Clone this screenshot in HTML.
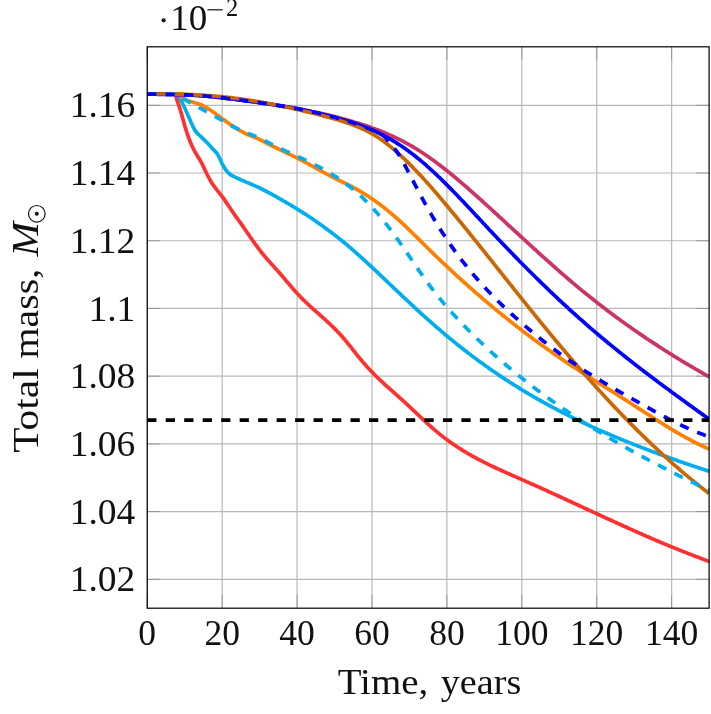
<!DOCTYPE html>
<html><head><meta charset="utf-8"><title>chart</title><style>html,body{margin:0;padding:0;background:#fff}svg{display:block;will-change:transform}</style></head><body>
<svg width="711" height="714" viewBox="0 0 711 714">
<rect width="711" height="714" fill="#fff"/>
<path d="M147.25 46.80 V608.20 M222.16 46.80 V608.20 M297.08 46.80 V608.20 M371.99 46.80 V608.20 M446.90 46.80 V608.20 M521.82 46.80 V608.20 M596.73 46.80 V608.20 M671.64 46.80 V608.20 M147.25 579.34 H709.10 M147.25 511.62 H709.10 M147.25 443.90 H709.10 M147.25 376.18 H709.10 M147.25 308.46 H709.10 M147.25 240.74 H709.10 M147.25 173.02 H709.10 M147.25 105.30 H709.10" stroke="#b9b9b9" stroke-width="1.2" fill="none"/>
<path d="M147.25 608.20 v-13.00 M147.25 46.80 v13.00 M222.16 608.20 v-13.00 M222.16 46.80 v13.00 M297.08 608.20 v-13.00 M297.08 46.80 v13.00 M371.99 608.20 v-13.00 M371.99 46.80 v13.00 M446.90 608.20 v-13.00 M446.90 46.80 v13.00 M521.82 608.20 v-13.00 M521.82 46.80 v13.00 M596.73 608.20 v-13.00 M596.73 46.80 v13.00 M671.64 608.20 v-13.00 M671.64 46.80 v13.00 M147.25 579.34 h13.00 M709.10 579.34 h-13.00 M147.25 511.62 h13.00 M709.10 511.62 h-13.00 M147.25 443.90 h13.00 M709.10 443.90 h-13.00 M147.25 376.18 h13.00 M709.10 376.18 h-13.00 M147.25 308.46 h13.00 M709.10 308.46 h-13.00 M147.25 240.74 h13.00 M709.10 240.74 h-13.00 M147.25 173.02 h13.00 M709.10 173.02 h-13.00 M147.25 105.30 h13.00 M709.10 105.30 h-13.00" stroke="#808080" stroke-width="0.65" fill="none"/>
<defs><clipPath id="c"><rect x="147.25" y="46.80" width="561.85" height="561.40"/></clipPath></defs>
<g clip-path="url(#c)" fill="none" stroke-width="3.7" stroke-linejoin="miter" stroke-miterlimit="10">
<path d="M147.2 94.1 L175.4 94.1 L176.9 99.7 L178.4 104.2 L179.9 108.6 L181.4 113.6 L182.9 119.0 L184.4 124.5 L185.9 129.5 L187.4 134.2 L188.9 138.4 L190.4 142.2 L191.9 145.7 L193.4 148.8 L194.9 151.6 L196.4 154.2 L197.9 156.7 L199.4 159.1 L200.9 161.7 L202.4 164.5 L203.9 167.6 L205.4 170.9 L206.9 174.0 L208.4 177.0 L209.9 179.7 L211.4 182.3 L212.9 184.6 L214.4 186.7 L215.9 188.7 L217.4 190.6 L218.9 192.4 L220.4 194.3 L221.9 196.2 L223.4 198.2 L224.9 200.4 L226.4 202.6 L227.9 204.8 L229.4 207.0 L230.9 209.3 L232.4 211.5 L233.9 213.7 L235.4 215.8 L236.9 217.9 L238.4 220.0 L239.9 222.1 L241.4 224.2 L242.9 226.4 L244.4 228.5 L245.9 230.7 L247.4 232.8 L248.9 235.0 L250.4 237.2 L251.9 239.3 L253.4 241.5 L254.9 243.6 L256.4 245.6 L257.9 247.7 L259.4 249.7 L260.9 251.6 L262.4 253.5 L263.9 255.3 L265.4 257.1 L266.9 258.9 L268.4 260.6 L269.9 262.3 L271.4 264.0 L272.9 265.6 L274.4 267.3 L275.9 268.9 L277.4 270.6 L278.9 272.3 L280.4 274.0 L281.9 275.7 L283.4 277.4 L284.9 279.2 L286.4 281.0 L287.9 282.7 L289.4 284.5 L290.9 286.3 L292.4 288.0 L293.9 289.8 L295.4 291.5 L296.9 293.1 L298.4 294.7 L299.9 296.3 L301.4 297.9 L302.9 299.4 L304.4 300.8 L305.9 302.3 L307.4 303.7 L308.9 305.1 L310.4 306.5 L311.9 307.8 L313.4 309.2 L314.9 310.5 L316.4 311.9 L317.9 313.2 L319.4 314.5 L320.9 315.9 L322.4 317.2 L323.9 318.5 L325.4 319.9 L326.9 321.3 L328.4 322.7 L329.9 324.1 L331.4 325.5 L332.9 326.9 L334.4 328.4 L335.9 329.9 L337.4 331.5 L338.9 333.1 L340.4 334.7 L341.9 336.3 L343.4 338.0 L344.9 339.8 L346.4 341.6 L347.9 343.5 L349.4 345.3 L350.9 347.2 L352.4 349.1 L353.9 351.0 L355.4 352.9 L356.9 354.8 L358.4 356.7 L359.9 358.5 L361.4 360.3 L362.9 362.1 L364.4 363.8 L365.9 365.5 L367.4 367.2 L368.9 368.8 L370.4 370.4 L371.9 371.9 L373.4 373.5 L374.9 375.0 L376.4 376.5 L377.9 377.9 L379.4 379.4 L380.9 380.8 L382.4 382.2 L383.9 383.6 L385.4 385.0 L386.9 386.3 L388.4 387.7 L389.9 389.0 L391.4 390.4 L392.9 391.7 L394.4 393.0 L395.9 394.4 L397.4 395.7 L398.9 397.0 L400.4 398.4 L401.9 399.7 L403.4 401.1 L404.9 402.4 L406.4 403.8 L407.9 405.2 L409.4 406.6 L410.9 408.0 L412.4 409.4 L413.9 410.8 L415.4 412.2 L416.9 413.7 L418.4 415.1 L419.9 416.5 L421.4 417.9 L422.9 419.3 L424.4 420.7 L425.9 422.1 L427.4 423.5 L428.9 424.8 L430.4 426.2 L431.9 427.5 L433.4 428.8 L434.9 430.1 L436.4 431.4 L437.9 432.6 L439.4 433.9 L440.9 435.1 L442.4 436.3 L443.9 437.4 L445.4 438.6 L446.9 439.7 L448.4 440.8 L449.9 441.9 L451.4 442.9 L452.9 444.0 L454.4 445.0 L455.9 446.0 L457.4 447.0 L458.9 448.0 L460.4 448.9 L461.9 449.9 L463.4 450.8 L464.9 451.7 L466.4 452.6 L467.9 453.5 L469.4 454.4 L470.9 455.2 L472.4 456.1 L473.9 456.9 L475.4 457.7 L476.9 458.6 L478.4 459.3 L479.9 460.1 L481.4 460.9 L482.9 461.7 L484.4 462.4 L485.9 463.2 L487.4 463.9 L488.9 464.7 L490.4 465.4 L491.9 466.1 L493.4 466.8 L494.9 467.5 L496.4 468.2 L497.9 468.9 L499.4 469.6 L500.9 470.3 L502.4 471.0 L503.9 471.6 L505.4 472.3 L506.9 473.0 L508.4 473.6 L509.9 474.3 L511.4 475.0 L512.9 475.6 L514.4 476.3 L515.9 476.9 L517.4 477.6 L518.9 478.2 L520.4 478.9 L521.9 479.6 L523.4 480.2 L524.9 480.9 L526.4 481.6 L527.9 482.2 L529.4 482.9 L530.9 483.6 L532.4 484.2 L533.9 484.9 L535.4 485.6 L536.9 486.3 L538.4 486.9 L539.9 487.6 L541.4 488.3 L542.9 489.0 L544.4 489.6 L545.9 490.3 L547.4 491.0 L548.9 491.7 L550.4 492.4 L551.9 493.1 L553.4 493.8 L554.9 494.4 L556.4 495.1 L557.9 495.8 L559.4 496.5 L560.9 497.2 L562.4 497.9 L563.9 498.6 L565.4 499.3 L566.9 500.0 L568.4 500.7 L569.9 501.3 L571.4 502.0 L572.9 502.7 L574.4 503.4 L575.9 504.1 L577.4 504.8 L578.9 505.5 L580.4 506.2 L581.9 506.9 L583.4 507.6 L584.9 508.3 L586.4 509.0 L587.9 509.7 L589.4 510.4 L590.9 511.1 L592.4 511.8 L593.9 512.4 L595.4 513.1 L596.9 513.8 L598.4 514.5 L599.9 515.2 L601.4 515.9 L602.9 516.6 L604.4 517.3 L605.9 518.0 L607.4 518.7 L608.9 519.3 L610.4 520.0 L611.9 520.7 L613.4 521.4 L614.9 522.1 L616.4 522.8 L617.9 523.5 L619.4 524.1 L620.9 524.8 L622.4 525.5 L623.9 526.2 L625.4 526.8 L626.9 527.5 L628.4 528.2 L629.9 528.9 L631.4 529.5 L632.9 530.2 L634.4 530.9 L635.9 531.5 L637.4 532.2 L638.9 532.9 L640.4 533.5 L641.9 534.2 L643.4 534.9 L644.9 535.5 L646.4 536.2 L647.9 536.8 L649.4 537.5 L650.9 538.1 L652.4 538.8 L653.9 539.4 L655.4 540.1 L656.9 540.7 L658.4 541.3 L659.9 542.0 L661.4 542.6 L662.9 543.2 L664.4 543.9 L665.9 544.5 L667.4 545.1 L668.9 545.7 L670.4 546.4 L671.9 547.0 L673.4 547.6 L674.9 548.2 L676.4 548.8 L677.9 549.4 L679.4 550.0 L680.9 550.6 L682.4 551.2 L683.9 551.8 L685.4 552.4 L686.9 553.0 L688.4 553.6 L689.9 554.2 L691.4 554.8 L692.9 555.3 L694.4 555.9 L695.9 556.5 L697.4 557.1 L698.9 557.6 L700.4 558.2 L701.9 558.8 L703.4 559.3 L704.9 559.9 L706.4 560.4 L707.9 561.0 L709.1 561.4" stroke="#ff3030"/>
<path d="M147.2 94.1 L177.2 94.1 L178.7 96.5 L180.2 99.0 L181.7 101.7 L183.2 104.7 L184.7 107.9 L186.2 111.3 L187.7 114.7 L189.2 118.1 L190.7 121.4 L192.2 124.7 L193.7 127.8 L195.2 130.7 L196.7 132.7 L198.2 134.1 L199.7 135.5 L201.2 136.9 L202.7 138.4 L204.2 139.9 L205.7 141.3 L207.2 142.8 L208.7 144.3 L210.2 146.0 L211.7 147.7 L213.2 149.4 L214.7 150.9 L216.2 152.5 L217.7 154.5 L219.2 157.3 L220.7 160.6 L222.2 163.8 L223.7 166.6 L225.2 169.0 L226.7 171.1 L228.2 172.7 L229.7 174.0 L231.2 175.1 L232.7 175.9 L234.2 176.7 L235.7 177.4 L237.2 178.1 L238.7 178.8 L240.2 179.5 L241.7 180.1 L243.2 180.8 L244.7 181.4 L246.2 182.1 L247.7 182.7 L249.2 183.3 L250.7 184.0 L252.2 184.6 L253.7 185.3 L255.2 185.9 L256.7 186.6 L258.2 187.3 L259.7 188.0 L261.2 188.8 L262.7 189.5 L264.2 190.3 L265.7 191.0 L267.2 191.8 L268.7 192.6 L270.2 193.4 L271.7 194.2 L273.2 195.0 L274.7 195.9 L276.2 196.7 L277.7 197.6 L279.2 198.4 L280.7 199.3 L282.2 200.1 L283.7 201.0 L285.2 201.9 L286.7 202.8 L288.2 203.6 L289.7 204.5 L291.2 205.4 L292.7 206.3 L294.2 207.3 L295.7 208.2 L297.2 209.1 L298.7 210.0 L300.2 211.0 L301.7 211.9 L303.2 212.9 L304.7 213.8 L306.2 214.8 L307.7 215.8 L309.2 216.8 L310.7 217.8 L312.2 218.8 L313.7 219.8 L315.2 220.8 L316.7 221.9 L318.2 222.9 L319.7 224.0 L321.2 225.0 L322.7 226.1 L324.2 227.2 L325.7 228.3 L327.2 229.4 L328.7 230.5 L330.2 231.6 L331.7 232.7 L333.2 233.9 L334.7 235.0 L336.2 236.2 L337.7 237.4 L339.2 238.6 L340.7 239.8 L342.2 241.0 L343.7 242.2 L345.2 243.4 L346.7 244.7 L348.2 246.0 L349.7 247.2 L351.2 248.5 L352.7 249.8 L354.2 251.1 L355.7 252.4 L357.2 253.8 L358.7 255.1 L360.2 256.5 L361.7 257.8 L363.2 259.2 L364.7 260.5 L366.2 261.9 L367.7 263.3 L369.2 264.7 L370.7 266.1 L372.2 267.5 L373.7 268.9 L375.2 270.3 L376.7 271.7 L378.2 273.1 L379.7 274.5 L381.2 276.0 L382.7 277.4 L384.2 278.8 L385.7 280.2 L387.2 281.7 L388.7 283.1 L390.2 284.5 L391.7 285.9 L393.2 287.4 L394.7 288.8 L396.2 290.2 L397.7 291.6 L399.2 293.0 L400.7 294.4 L402.2 295.9 L403.7 297.3 L405.2 298.7 L406.7 300.1 L408.2 301.5 L409.7 302.9 L411.2 304.3 L412.7 305.7 L414.2 307.1 L415.7 308.5 L417.2 309.8 L418.7 311.2 L420.2 312.6 L421.7 314.0 L423.2 315.3 L424.7 316.7 L426.2 318.0 L427.7 319.4 L429.2 320.7 L430.7 322.0 L432.2 323.4 L433.7 324.7 L435.2 326.0 L436.7 327.3 L438.2 328.6 L439.7 329.9 L441.2 331.2 L442.7 332.4 L444.2 333.7 L445.7 335.0 L447.2 336.2 L448.7 337.5 L450.2 338.7 L451.7 339.9 L453.2 341.2 L454.7 342.4 L456.2 343.6 L457.7 344.8 L459.2 346.0 L460.7 347.2 L462.2 348.3 L463.7 349.5 L465.2 350.7 L466.7 351.8 L468.2 353.0 L469.7 354.1 L471.2 355.3 L472.7 356.4 L474.2 357.5 L475.7 358.6 L477.2 359.8 L478.7 360.9 L480.2 362.0 L481.7 363.0 L483.2 364.1 L484.7 365.2 L486.2 366.3 L487.7 367.3 L489.2 368.4 L490.7 369.4 L492.2 370.5 L493.7 371.5 L495.2 372.5 L496.7 373.6 L498.2 374.6 L499.7 375.6 L501.2 376.6 L502.7 377.6 L504.2 378.6 L505.7 379.6 L507.2 380.5 L508.7 381.5 L510.2 382.5 L511.7 383.4 L513.2 384.4 L514.7 385.3 L516.2 386.3 L517.7 387.2 L519.2 388.1 L520.7 389.1 L522.2 390.0 L523.7 390.9 L525.2 391.8 L526.7 392.7 L528.2 393.6 L529.7 394.5 L531.2 395.3 L532.7 396.2 L534.2 397.1 L535.7 397.9 L537.2 398.8 L538.7 399.7 L540.2 400.5 L541.7 401.3 L543.2 402.2 L544.7 403.0 L546.2 403.8 L547.7 404.7 L549.2 405.5 L550.7 406.3 L552.2 407.1 L553.7 407.9 L555.2 408.7 L556.7 409.5 L558.2 410.3 L559.7 411.0 L561.2 411.8 L562.7 412.6 L564.2 413.4 L565.7 414.1 L567.2 414.9 L568.7 415.6 L570.2 416.4 L571.7 417.1 L573.2 417.9 L574.7 418.6 L576.2 419.3 L577.7 420.0 L579.2 420.8 L580.7 421.5 L582.2 422.2 L583.7 422.9 L585.2 423.6 L586.7 424.3 L588.2 425.0 L589.7 425.7 L591.2 426.4 L592.7 427.1 L594.2 427.7 L595.7 428.4 L597.2 429.1 L598.7 429.8 L600.2 430.4 L601.7 431.1 L603.2 431.7 L604.7 432.4 L606.2 433.0 L607.7 433.7 L609.2 434.3 L610.7 435.0 L612.2 435.6 L613.7 436.2 L615.2 436.9 L616.7 437.5 L618.2 438.1 L619.7 438.7 L621.2 439.4 L622.7 440.0 L624.2 440.6 L625.7 441.2 L627.2 441.8 L628.7 442.4 L630.2 443.0 L631.7 443.6 L633.2 444.2 L634.7 444.8 L636.2 445.4 L637.7 446.0 L639.2 446.5 L640.7 447.1 L642.2 447.7 L643.7 448.3 L645.2 448.8 L646.7 449.4 L648.2 450.0 L649.7 450.5 L651.2 451.1 L652.7 451.7 L654.2 452.2 L655.7 452.8 L657.2 453.3 L658.7 453.9 L660.2 454.4 L661.7 455.0 L663.2 455.5 L664.7 456.1 L666.2 456.6 L667.7 457.1 L669.2 457.7 L670.7 458.2 L672.2 458.7 L673.7 459.3 L675.2 459.8 L676.7 460.3 L678.2 460.9 L679.7 461.4 L681.2 461.9 L682.7 462.4 L684.2 463.0 L685.7 463.5 L687.2 464.0 L688.7 464.5 L690.2 465.0 L691.7 465.5 L693.2 466.0 L694.7 466.6 L696.2 467.1 L697.7 467.6 L699.2 468.1 L700.7 468.6 L702.2 469.1 L703.7 469.6 L705.2 470.1 L706.7 470.6 L708.2 471.1 L709.1 471.4" stroke="#00aeef"/>
<path d="M147.2 94.1 L178.4 94.1 L179.9 95.8 L181.4 97.2 L182.9 98.4 L184.4 99.3 L185.9 100.0 L187.4 100.6 L188.9 101.1 L190.4 101.5 L191.9 101.9 L193.4 102.3 L194.9 102.8 L196.4 103.2 L197.9 103.7 L199.4 104.2 L200.9 104.8 L202.4 105.5 L203.9 106.2 L205.4 107.1 L206.9 107.9 L208.4 108.8 L209.9 109.8 L211.4 110.8 L212.9 111.8 L214.4 112.9 L215.9 113.9 L217.4 115.0 L218.9 116.1 L220.4 117.3 L221.9 118.4 L223.4 119.5 L224.9 120.6 L226.4 121.7 L227.9 122.8 L229.4 123.9 L230.9 124.9 L232.4 125.9 L233.9 126.9 L235.4 127.9 L236.9 128.8 L238.4 129.7 L239.9 130.6 L241.4 131.4 L242.9 132.2 L244.4 133.0 L245.9 133.7 L247.4 134.4 L248.9 135.1 L250.4 135.7 L251.9 136.2 L253.4 136.8 L254.9 137.4 L256.4 138.0 L257.9 138.7 L259.4 139.4 L260.9 140.1 L262.4 140.9 L263.9 141.7 L265.4 142.5 L266.9 143.3 L268.4 144.0 L269.9 144.8 L271.4 145.5 L272.9 146.3 L274.4 147.0 L275.9 147.7 L277.4 148.5 L278.9 149.2 L280.4 149.9 L281.9 150.6 L283.4 151.3 L284.9 152.1 L286.4 152.8 L287.9 153.5 L289.4 154.2 L290.9 154.9 L292.4 155.7 L293.9 156.4 L295.4 157.2 L296.9 157.9 L298.4 158.7 L299.9 159.5 L301.4 160.2 L302.9 161.0 L304.4 161.8 L305.9 162.6 L307.4 163.4 L308.9 164.2 L310.4 165.1 L311.9 165.9 L313.4 166.7 L314.9 167.5 L316.4 168.3 L317.9 169.2 L319.4 170.0 L320.9 170.8 L322.4 171.6 L323.9 172.4 L325.4 173.3 L326.9 174.1 L328.4 174.9 L329.9 175.7 L331.4 176.5 L332.9 177.2 L334.4 178.0 L335.9 178.8 L337.4 179.5 L338.9 180.3 L340.4 181.0 L341.9 181.8 L343.4 182.5 L344.9 183.2 L346.4 184.0 L347.9 184.7 L349.4 185.5 L350.9 186.3 L352.4 187.0 L353.9 187.8 L355.4 188.7 L356.9 189.5 L358.4 190.3 L359.9 191.2 L361.4 192.1 L362.9 193.0 L364.4 193.9 L365.9 194.8 L367.4 195.8 L368.9 196.8 L370.4 197.7 L371.9 198.8 L373.4 199.8 L374.9 200.8 L376.4 201.9 L377.9 203.0 L379.4 204.1 L380.9 205.2 L382.4 206.4 L383.9 207.5 L385.4 208.7 L386.9 209.9 L388.4 211.1 L389.9 212.4 L391.4 213.6 L392.9 214.9 L394.4 216.2 L395.9 217.5 L397.4 218.8 L398.9 220.2 L400.4 221.5 L401.9 222.9 L403.4 224.3 L404.9 225.7 L406.4 227.2 L407.9 228.6 L409.4 230.1 L410.9 231.5 L412.4 233.0 L413.9 234.5 L415.4 235.9 L416.9 237.4 L418.4 238.9 L419.9 240.4 L421.4 241.9 L422.9 243.4 L424.4 244.8 L425.9 246.3 L427.4 247.8 L428.9 249.3 L430.4 250.8 L431.9 252.2 L433.4 253.7 L434.9 255.1 L436.4 256.6 L437.9 258.0 L439.4 259.4 L440.9 260.9 L442.4 262.3 L443.9 263.7 L445.4 265.1 L446.9 266.5 L448.4 267.9 L449.9 269.3 L451.4 270.7 L452.9 272.1 L454.4 273.5 L455.9 274.9 L457.4 276.3 L458.9 277.6 L460.4 279.0 L461.9 280.3 L463.4 281.7 L464.9 283.0 L466.4 284.4 L467.9 285.7 L469.4 287.1 L470.9 288.4 L472.4 289.7 L473.9 291.0 L475.4 292.3 L476.9 293.6 L478.4 294.9 L479.9 296.2 L481.4 297.5 L482.9 298.8 L484.4 300.1 L485.9 301.3 L487.4 302.6 L488.9 303.9 L490.4 305.1 L491.9 306.4 L493.4 307.6 L494.9 308.9 L496.4 310.1 L497.9 311.4 L499.4 312.6 L500.9 313.8 L502.4 315.0 L503.9 316.2 L505.4 317.4 L506.9 318.6 L508.4 319.8 L509.9 321.0 L511.4 322.2 L512.9 323.4 L514.4 324.6 L515.9 325.8 L517.4 326.9 L518.9 328.1 L520.4 329.2 L521.9 330.4 L523.4 331.5 L524.9 332.7 L526.4 333.8 L527.9 334.9 L529.4 336.1 L530.9 337.2 L532.4 338.3 L533.9 339.4 L535.4 340.5 L536.9 341.6 L538.4 342.7 L539.9 343.8 L541.4 344.9 L542.9 346.0 L544.4 347.1 L545.9 348.1 L547.4 349.2 L548.9 350.3 L550.4 351.3 L551.9 352.4 L553.4 353.4 L554.9 354.5 L556.4 355.5 L557.9 356.5 L559.4 357.5 L560.9 358.6 L562.4 359.6 L563.9 360.6 L565.4 361.6 L566.9 362.6 L568.4 363.6 L569.9 364.6 L571.4 365.6 L572.9 366.6 L574.4 367.5 L575.9 368.5 L577.4 369.5 L578.9 370.5 L580.4 371.4 L581.9 372.4 L583.4 373.4 L584.9 374.3 L586.4 375.3 L587.9 376.2 L589.4 377.2 L590.9 378.1 L592.4 379.1 L593.9 380.0 L595.4 381.0 L596.9 381.9 L598.4 382.9 L599.9 383.8 L601.4 384.7 L602.9 385.7 L604.4 386.6 L605.9 387.6 L607.4 388.5 L608.9 389.4 L610.4 390.4 L611.9 391.3 L613.4 392.3 L614.9 393.2 L616.4 394.2 L617.9 395.1 L619.4 396.1 L620.9 397.0 L622.4 398.0 L623.9 398.9 L625.4 399.9 L626.9 400.8 L628.4 401.8 L629.9 402.8 L631.4 403.7 L632.9 404.7 L634.4 405.7 L635.9 406.7 L637.4 407.6 L638.9 408.6 L640.4 409.6 L641.9 410.5 L643.4 411.5 L644.9 412.5 L646.4 413.5 L647.9 414.4 L649.4 415.4 L650.9 416.4 L652.4 417.3 L653.9 418.3 L655.4 419.2 L656.9 420.2 L658.4 421.1 L659.9 422.1 L661.4 423.0 L662.9 424.0 L664.4 424.9 L665.9 425.8 L667.4 426.7 L668.9 427.7 L670.4 428.6 L671.9 429.5 L673.4 430.4 L674.9 431.3 L676.4 432.2 L677.9 433.0 L679.4 433.9 L680.9 434.8 L682.4 435.6 L683.9 436.5 L685.4 437.3 L686.9 438.1 L688.4 438.9 L689.9 439.7 L691.4 440.5 L692.9 441.3 L694.4 442.1 L695.9 442.9 L697.4 443.6 L698.9 444.3 L700.4 445.1 L701.9 445.8 L703.4 446.5 L704.9 447.2 L706.4 447.9 L707.9 448.5 L709.1 449.0" stroke="#ff8000"/>
<path d="M147.1 94.1 L148.6 94.1 L150.1 94.1 L151.6 94.1 L153.1 94.1 L154.6 94.1 L156.1 94.1 L157.6 94.2 L159.1 94.2 L160.6 94.2 L162.1 94.2 L163.6 94.2 L165.1 94.2 L166.6 94.3 L168.1 94.3 L169.6 94.3 L171.1 94.4 L172.6 94.4 L174.1 94.4 L175.6 94.5 L177.1 94.5 L178.6 94.5 L180.1 94.6 L181.6 94.7 L183.1 94.7 L184.6 94.8 L186.1 94.8 L187.6 94.9 L189.1 95.0 L190.6 95.1 L192.1 95.1 L193.6 95.2 L195.1 95.3 L196.6 95.4 L198.1 95.5 L199.6 95.6 L201.1 95.7 L202.6 95.9 L204.1 96.0 L205.6 96.1 L207.1 96.2 L208.6 96.4 L210.1 96.5 L211.6 96.7 L213.1 96.8 L214.6 97.0 L216.1 97.1 L217.6 97.3 L219.1 97.4 L220.6 97.6 L222.1 97.8 L223.6 97.9 L225.1 98.1 L226.6 98.3 L228.1 98.5 L229.6 98.7 L231.1 98.8 L232.6 99.0 L234.1 99.2 L235.6 99.4 L237.1 99.6 L238.6 99.8 L240.1 100.0 L241.6 100.2 L243.1 100.4 L244.6 100.5 L246.1 100.7 L247.6 100.9 L249.1 101.1 L250.6 101.3 L252.1 101.5 L253.6 101.7 L255.1 101.9 L256.6 102.1 L258.1 102.4 L259.6 102.6 L261.1 102.8 L262.6 103.0 L264.1 103.2 L265.6 103.4 L267.1 103.6 L268.6 103.9 L270.1 104.1 L271.6 104.3 L273.1 104.5 L274.6 104.8 L276.1 105.0 L277.6 105.2 L279.1 105.5 L280.6 105.7 L282.1 105.9 L283.6 106.2 L285.1 106.4 L286.6 106.7 L288.1 106.9 L289.6 107.2 L291.1 107.5 L292.6 107.7 L294.1 108.0 L295.6 108.3 L297.1 108.5 L298.6 108.8 L300.1 109.1 L301.6 109.4 L303.1 109.7 L304.6 109.9 L306.1 110.2 L307.6 110.5 L309.1 110.8 L310.6 111.1 L312.1 111.5 L313.6 111.8 L315.1 112.1 L316.6 112.4 L318.1 112.7 L319.6 113.1 L321.1 113.4 L322.6 113.7 L324.1 114.1 L325.6 114.4 L327.1 114.8 L328.6 115.1 L330.1 115.5 L331.6 115.9 L333.1 116.2 L334.6 116.6 L336.1 117.0 L337.6 117.4 L339.1 117.8 L340.6 118.2 L342.1 118.6 L343.6 119.0 L345.1 119.4 L346.6 119.8 L348.1 120.2 L349.6 120.6 L351.1 121.1 L352.6 121.5 L354.1 122.0 L355.6 122.4 L357.1 122.9 L358.6 123.3 L360.1 123.8 L361.6 124.3 L363.1 124.8 L364.6 125.3 L366.1 125.8 L367.6 126.3 L369.1 126.8 L370.6 127.3 L372.1 127.9 L373.6 128.4 L375.1 129.0 L376.6 129.6 L378.1 130.1 L379.6 130.7 L381.1 131.3 L382.6 131.9 L384.1 132.5 L385.6 133.2 L387.1 133.8 L388.6 134.5 L390.1 135.1 L391.6 135.8 L393.1 136.5 L394.6 137.2 L396.1 137.9 L397.6 138.6 L399.1 139.4 L400.6 140.1 L402.1 140.9 L403.6 141.7 L405.1 142.5 L406.6 143.3 L408.1 144.1 L409.6 145.0 L411.1 145.8 L412.6 146.7 L414.1 147.6 L415.6 148.5 L417.1 149.4 L418.6 150.3 L420.1 151.3 L421.6 152.3 L423.1 153.2 L424.6 154.2 L426.1 155.3 L427.6 156.3 L429.1 157.3 L430.6 158.4 L432.1 159.5 L433.6 160.5 L435.1 161.6 L436.6 162.8 L438.1 163.9 L439.6 165.0 L441.1 166.2 L442.6 167.3 L444.1 168.5 L445.6 169.7 L447.1 170.9 L448.6 172.1 L450.1 173.3 L451.6 174.5 L453.1 175.7 L454.6 177.0 L456.1 178.2 L457.6 179.5 L459.1 180.8 L460.6 182.0 L462.1 183.3 L463.6 184.6 L465.1 185.9 L466.6 187.2 L468.1 188.5 L469.6 189.8 L471.1 191.1 L472.6 192.5 L474.1 193.8 L475.6 195.1 L477.1 196.5 L478.6 197.8 L480.1 199.2 L481.6 200.5 L483.1 201.9 L484.6 203.3 L486.1 204.6 L487.6 206.0 L489.1 207.4 L490.6 208.7 L492.1 210.1 L493.6 211.5 L495.1 212.8 L496.6 214.2 L498.1 215.6 L499.6 217.0 L501.1 218.3 L502.6 219.7 L504.1 221.1 L505.6 222.5 L507.1 223.9 L508.6 225.3 L510.1 226.6 L511.6 228.0 L513.1 229.4 L514.6 230.8 L516.1 232.2 L517.6 233.5 L519.1 234.9 L520.6 236.3 L522.1 237.7 L523.6 239.1 L525.1 240.4 L526.6 241.8 L528.1 243.2 L529.6 244.6 L531.1 245.9 L532.6 247.3 L534.1 248.7 L535.6 250.0 L537.1 251.4 L538.6 252.8 L540.1 254.1 L541.6 255.5 L543.1 256.8 L544.6 258.2 L546.1 259.5 L547.6 260.9 L549.1 262.2 L550.6 263.5 L552.1 264.9 L553.6 266.2 L555.1 267.5 L556.6 268.9 L558.1 270.2 L559.6 271.5 L561.1 272.8 L562.6 274.1 L564.1 275.4 L565.6 276.7 L567.1 278.0 L568.6 279.3 L570.1 280.5 L571.6 281.8 L573.1 283.1 L574.6 284.3 L576.1 285.6 L577.6 286.9 L579.1 288.1 L580.6 289.3 L582.1 290.6 L583.6 291.8 L585.1 293.0 L586.6 294.2 L588.1 295.4 L589.6 296.6 L591.1 297.8 L592.6 299.0 L594.1 300.2 L595.6 301.4 L597.1 302.6 L598.6 303.8 L600.1 304.9 L601.6 306.1 L603.1 307.2 L604.6 308.4 L606.1 309.5 L607.6 310.7 L609.1 311.8 L610.6 312.9 L612.1 314.0 L613.6 315.2 L615.1 316.3 L616.6 317.4 L618.1 318.5 L619.6 319.6 L621.1 320.7 L622.6 321.7 L624.1 322.8 L625.6 323.9 L627.1 325.0 L628.6 326.0 L630.1 327.1 L631.6 328.2 L633.1 329.2 L634.6 330.3 L636.1 331.3 L637.6 332.3 L639.1 333.4 L640.6 334.4 L642.1 335.4 L643.6 336.4 L645.1 337.4 L646.6 338.5 L648.1 339.5 L649.6 340.5 L651.1 341.4 L652.6 342.4 L654.1 343.4 L655.6 344.4 L657.1 345.4 L658.6 346.4 L660.1 347.3 L661.6 348.3 L663.1 349.3 L664.6 350.2 L666.1 351.2 L667.6 352.1 L669.1 353.0 L670.6 354.0 L672.1 354.9 L673.6 355.9 L675.1 356.8 L676.6 357.7 L678.1 358.6 L679.6 359.5 L681.1 360.5 L682.6 361.4 L684.1 362.3 L685.6 363.2 L687.1 364.1 L688.6 365.0 L690.1 365.8 L691.6 366.7 L693.1 367.6 L694.6 368.5 L696.1 369.4 L697.6 370.2 L699.1 371.1 L700.6 372.0 L702.1 372.8 L703.6 373.7 L705.1 374.5 L706.6 375.4 L708.1 376.2 L709.1 376.8" stroke="#cc3366"/>
<path d="M147.1 94.1 L148.6 94.1 L150.1 94.2 L151.6 94.2 L153.1 94.2 L154.6 94.2 L156.1 94.2 L157.6 94.3 L159.1 94.3 L160.6 94.3 L162.1 94.3 L163.6 94.3 L165.1 94.3 L166.6 94.4 L168.1 94.4 L169.6 94.4 L171.1 94.4 L172.6 94.5 L174.1 94.5 L175.6 94.5 L177.1 94.6 L178.6 94.6 L180.1 94.6 L181.6 94.7 L183.1 94.7 L184.6 94.8 L186.1 94.8 L187.6 94.9 L189.1 95.0 L190.6 95.0 L192.1 95.1 L193.6 95.2 L195.1 95.3 L196.6 95.4 L198.1 95.4 L199.6 95.6 L201.1 95.7 L202.6 95.8 L204.1 95.9 L205.6 96.0 L207.1 96.2 L208.6 96.3 L210.1 96.4 L211.6 96.6 L213.1 96.7 L214.6 96.9 L216.1 97.1 L217.6 97.2 L219.1 97.4 L220.6 97.6 L222.1 97.7 L223.6 97.9 L225.1 98.1 L226.6 98.3 L228.1 98.5 L229.6 98.7 L231.1 98.8 L232.6 99.0 L234.1 99.2 L235.6 99.4 L237.1 99.6 L238.6 99.8 L240.1 100.0 L241.6 100.2 L243.1 100.4 L244.6 100.6 L246.1 100.8 L247.6 101.0 L249.1 101.2 L250.6 101.4 L252.1 101.6 L253.6 101.8 L255.1 102.0 L256.6 102.2 L258.1 102.4 L259.6 102.6 L261.1 102.9 L262.6 103.1 L264.1 103.3 L265.6 103.5 L267.1 103.7 L268.6 104.0 L270.1 104.2 L271.6 104.4 L273.1 104.6 L274.6 104.9 L276.1 105.1 L277.6 105.3 L279.1 105.6 L280.6 105.8 L282.1 106.1 L283.6 106.3 L285.1 106.6 L286.6 106.8 L288.1 107.1 L289.6 107.4 L291.1 107.6 L292.6 107.9 L294.1 108.2 L295.6 108.5 L297.1 108.7 L298.6 109.0 L300.1 109.3 L301.6 109.6 L303.1 109.9 L304.6 110.2 L306.1 110.5 L307.6 110.8 L309.1 111.1 L310.6 111.5 L312.1 111.8 L313.6 112.1 L315.1 112.5 L316.6 112.8 L318.1 113.1 L319.6 113.5 L321.1 113.9 L322.6 114.2 L324.1 114.6 L325.6 115.0 L327.1 115.3 L328.6 115.7 L330.1 116.1 L331.6 116.5 L333.1 116.9 L334.6 117.3 L336.1 117.7 L337.6 118.2 L339.1 118.6 L340.6 119.0 L342.1 119.5 L343.6 119.9 L345.1 120.4 L346.6 120.8 L348.1 121.3 L349.6 121.8 L351.1 122.2 L352.6 122.7 L354.1 123.2 L355.6 123.7 L357.1 124.2 L358.6 124.8 L360.1 125.3 L361.6 125.8 L363.1 126.4 L364.6 127.0 L366.1 127.6 L367.6 128.1 L369.1 128.8 L370.6 129.4 L372.1 130.0 L373.6 130.7 L375.1 131.3 L376.6 132.0 L378.1 132.7 L379.6 133.5 L381.1 134.2 L382.6 135.0 L384.1 135.7 L385.6 136.5 L387.1 137.4 L388.6 138.2 L390.1 139.0 L391.6 139.9 L393.1 140.8 L394.6 141.7 L396.1 142.6 L397.6 143.6 L399.1 144.6 L400.6 145.5 L402.1 146.5 L403.6 147.6 L405.1 148.6 L406.6 149.7 L408.1 150.8 L409.6 151.9 L411.1 153.0 L412.6 154.1 L414.1 155.3 L415.6 156.5 L417.1 157.7 L418.6 158.9 L420.1 160.1 L421.6 161.4 L423.1 162.6 L424.6 163.9 L426.1 165.2 L427.6 166.6 L429.1 167.9 L430.6 169.3 L432.1 170.6 L433.6 172.0 L435.1 173.4 L436.6 174.8 L438.1 176.3 L439.6 177.7 L441.1 179.1 L442.6 180.6 L444.1 182.1 L445.6 183.6 L447.1 185.1 L448.6 186.6 L450.1 188.1 L451.6 189.6 L453.1 191.2 L454.6 192.7 L456.1 194.3 L457.6 195.8 L459.1 197.4 L460.6 199.0 L462.1 200.5 L463.6 202.1 L465.1 203.7 L466.6 205.3 L468.1 206.9 L469.6 208.5 L471.1 210.1 L472.6 211.7 L474.1 213.3 L475.6 214.9 L477.1 216.5 L478.6 218.1 L480.1 219.7 L481.6 221.3 L483.1 223.0 L484.6 224.6 L486.1 226.2 L487.6 227.8 L489.1 229.4 L490.6 231.0 L492.1 232.6 L493.6 234.2 L495.1 235.8 L496.6 237.3 L498.1 238.9 L499.6 240.5 L501.1 242.1 L502.6 243.6 L504.1 245.2 L505.6 246.8 L507.1 248.3 L508.6 249.9 L510.1 251.4 L511.6 253.0 L513.1 254.5 L514.6 256.1 L516.1 257.6 L517.6 259.1 L519.1 260.7 L520.6 262.2 L522.1 263.7 L523.6 265.2 L525.1 266.7 L526.6 268.2 L528.1 269.7 L529.6 271.2 L531.1 272.7 L532.6 274.2 L534.1 275.7 L535.6 277.2 L537.1 278.7 L538.6 280.1 L540.1 281.6 L541.6 283.1 L543.1 284.5 L544.6 286.0 L546.1 287.4 L547.6 288.9 L549.1 290.3 L550.6 291.8 L552.1 293.2 L553.6 294.6 L555.1 296.0 L556.6 297.4 L558.1 298.9 L559.6 300.3 L561.1 301.7 L562.6 303.1 L564.1 304.4 L565.6 305.8 L567.1 307.2 L568.6 308.6 L570.1 310.0 L571.6 311.3 L573.1 312.7 L574.6 314.0 L576.1 315.4 L577.6 316.7 L579.1 318.1 L580.6 319.4 L582.1 320.7 L583.6 322.0 L585.1 323.4 L586.6 324.7 L588.1 326.0 L589.6 327.3 L591.1 328.6 L592.6 329.9 L594.1 331.1 L595.6 332.4 L597.1 333.7 L598.6 335.0 L600.1 336.2 L601.6 337.5 L603.1 338.7 L604.6 340.0 L606.1 341.2 L607.6 342.5 L609.1 343.7 L610.6 344.9 L612.1 346.2 L613.6 347.4 L615.1 348.6 L616.6 349.8 L618.1 351.0 L619.6 352.2 L621.1 353.4 L622.6 354.6 L624.1 355.8 L625.6 357.0 L627.1 358.2 L628.6 359.4 L630.1 360.6 L631.6 361.7 L633.1 362.9 L634.6 364.1 L636.1 365.2 L637.6 366.4 L639.1 367.6 L640.6 368.7 L642.1 369.9 L643.6 371.0 L645.1 372.2 L646.6 373.3 L648.1 374.4 L649.6 375.6 L651.1 376.7 L652.6 377.8 L654.1 379.0 L655.6 380.1 L657.1 381.2 L658.6 382.4 L660.1 383.5 L661.6 384.6 L663.1 385.7 L664.6 386.8 L666.1 387.9 L667.6 389.0 L669.1 390.1 L670.6 391.2 L672.1 392.4 L673.6 393.5 L675.1 394.6 L676.6 395.7 L678.1 396.7 L679.6 397.8 L681.1 398.9 L682.6 400.0 L684.1 401.1 L685.6 402.2 L687.1 403.3 L688.6 404.4 L690.1 405.5 L691.6 406.6 L693.1 407.6 L694.6 408.7 L696.1 409.8 L697.6 410.9 L699.1 412.0 L700.6 413.1 L702.1 414.1 L703.6 415.2 L705.1 416.3 L706.6 417.4 L708.1 418.4 L709.1 419.2" stroke="#0000ff"/>
<path d="M147.1 94.1 L148.6 94.1 L150.1 94.1 L151.6 94.0 L153.1 94.0 L154.6 94.0 L156.1 94.0 L157.6 94.0 L159.1 94.0 L160.6 94.0 L162.1 94.0 L163.6 94.0 L165.1 94.0 L166.6 94.0 L168.1 94.0 L169.6 94.0 L171.1 94.1 L172.6 94.1 L174.1 94.1 L175.6 94.1 L177.1 94.2 L178.6 94.2 L180.1 94.2 L181.6 94.3 L183.1 94.3 L184.6 94.3 L186.1 94.4 L187.6 94.4 L189.1 94.5 L190.6 94.6 L192.1 94.6 L193.6 94.7 L195.1 94.8 L196.6 94.8 L198.1 94.9 L199.6 95.0 L201.1 95.1 L202.6 95.2 L204.1 95.3 L205.6 95.4 L207.1 95.5 L208.6 95.6 L210.1 95.7 L211.6 95.8 L213.1 95.9 L214.6 96.0 L216.1 96.2 L217.6 96.3 L219.1 96.4 L220.6 96.6 L222.1 96.7 L223.6 96.9 L225.1 97.0 L226.6 97.2 L228.1 97.4 L229.6 97.5 L231.1 97.7 L232.6 97.9 L234.1 98.1 L235.6 98.3 L237.1 98.5 L238.6 98.7 L240.1 98.9 L241.6 99.1 L243.1 99.3 L244.6 99.5 L246.1 99.7 L247.6 100.0 L249.1 100.2 L250.6 100.4 L252.1 100.7 L253.6 100.9 L255.1 101.1 L256.6 101.4 L258.1 101.6 L259.6 101.9 L261.1 102.2 L262.6 102.4 L264.1 102.7 L265.6 103.0 L267.1 103.2 L268.6 103.5 L270.1 103.8 L271.6 104.1 L273.1 104.4 L274.6 104.7 L276.1 105.0 L277.6 105.3 L279.1 105.6 L280.6 105.9 L282.1 106.2 L283.6 106.5 L285.1 106.8 L286.6 107.1 L288.1 107.5 L289.6 107.8 L291.1 108.1 L292.6 108.4 L294.1 108.8 L295.6 109.1 L297.1 109.5 L298.6 109.8 L300.1 110.2 L301.6 110.5 L303.1 110.9 L304.6 111.2 L306.1 111.6 L307.6 111.9 L309.1 112.3 L310.6 112.7 L312.1 113.0 L313.6 113.4 L315.1 113.8 L316.6 114.2 L318.1 114.5 L319.6 114.9 L321.1 115.3 L322.6 115.7 L324.1 116.1 L325.6 116.5 L327.1 116.9 L328.6 117.3 L330.1 117.7 L331.6 118.1 L333.1 118.5 L334.6 118.9 L336.1 119.4 L337.6 119.8 L339.1 120.3 L340.6 120.7 L342.1 121.2 L343.6 121.7 L345.1 122.2 L346.6 122.7 L348.1 123.2 L349.6 123.7 L351.1 124.2 L352.6 124.8 L354.1 125.4 L355.6 125.9 L357.1 126.5 L358.6 127.2 L360.1 127.8 L361.6 128.5 L363.1 129.2 L364.6 129.9 L366.1 130.6 L367.6 131.4 L369.1 132.2 L370.6 133.0 L372.1 133.8 L373.6 134.7 L375.1 135.6 L376.6 136.6 L378.1 137.5 L379.6 138.5 L381.1 139.6 L382.6 140.6 L384.1 141.7 L385.6 142.8 L387.1 144.0 L388.6 145.2 L390.1 146.4 L391.6 147.6 L393.1 148.8 L394.6 150.1 L396.1 151.4 L397.6 152.7 L399.1 154.1 L400.6 155.4 L402.1 156.8 L403.6 158.2 L405.1 159.7 L406.6 161.1 L408.1 162.6 L409.6 164.1 L411.1 165.6 L412.6 167.1 L414.1 168.7 L415.6 170.2 L417.1 171.8 L418.6 173.4 L420.1 175.0 L421.6 176.6 L423.1 178.3 L424.6 179.9 L426.1 181.6 L427.6 183.2 L429.1 184.9 L430.6 186.6 L432.1 188.3 L433.6 190.1 L435.1 191.8 L436.6 193.5 L438.1 195.3 L439.6 197.1 L441.1 198.8 L442.6 200.6 L444.1 202.4 L445.6 204.2 L447.1 206.0 L448.6 207.8 L450.1 209.6 L451.6 211.4 L453.1 213.2 L454.6 215.0 L456.1 216.8 L457.6 218.6 L459.1 220.5 L460.6 222.3 L462.1 224.1 L463.6 226.0 L465.1 227.8 L466.6 229.7 L468.1 231.5 L469.6 233.4 L471.1 235.3 L472.6 237.1 L474.1 239.0 L475.6 240.8 L477.1 242.7 L478.6 244.6 L480.1 246.5 L481.6 248.3 L483.1 250.2 L484.6 252.1 L486.1 254.0 L487.6 255.9 L489.1 257.7 L490.6 259.6 L492.1 261.5 L493.6 263.4 L495.1 265.3 L496.6 267.2 L498.1 269.1 L499.6 271.0 L501.1 272.8 L502.6 274.7 L504.1 276.6 L505.6 278.5 L507.1 280.4 L508.6 282.3 L510.1 284.2 L511.6 286.0 L513.1 287.9 L514.6 289.8 L516.1 291.7 L517.6 293.6 L519.1 295.4 L520.6 297.3 L522.1 299.2 L523.6 301.1 L525.1 302.9 L526.6 304.8 L528.1 306.7 L529.6 308.5 L531.1 310.4 L532.6 312.2 L534.1 314.1 L535.6 315.9 L537.1 317.8 L538.6 319.6 L540.1 321.5 L541.6 323.3 L543.1 325.1 L544.6 327.0 L546.1 328.8 L547.6 330.6 L549.1 332.4 L550.6 334.3 L552.1 336.1 L553.6 337.9 L555.1 339.7 L556.6 341.5 L558.1 343.3 L559.6 345.1 L561.1 346.8 L562.6 348.6 L564.1 350.4 L565.6 352.2 L567.1 353.9 L568.6 355.7 L570.1 357.5 L571.6 359.2 L573.1 361.0 L574.6 362.7 L576.1 364.4 L577.6 366.2 L579.1 367.9 L580.6 369.6 L582.1 371.3 L583.6 373.0 L585.1 374.7 L586.6 376.4 L588.1 378.1 L589.6 379.8 L591.1 381.5 L592.6 383.2 L594.1 384.8 L595.6 386.5 L597.1 388.2 L598.6 389.8 L600.1 391.4 L601.6 393.1 L603.1 394.7 L604.6 396.3 L606.1 398.0 L607.6 399.6 L609.1 401.2 L610.6 402.8 L612.1 404.4 L613.6 406.0 L615.1 407.6 L616.6 409.1 L618.1 410.7 L619.6 412.3 L621.1 413.8 L622.6 415.4 L624.1 416.9 L625.6 418.5 L627.1 420.0 L628.6 421.5 L630.1 423.1 L631.6 424.6 L633.1 426.1 L634.6 427.6 L636.1 429.1 L637.6 430.6 L639.1 432.1 L640.6 433.5 L642.1 435.0 L643.6 436.5 L645.1 437.9 L646.6 439.4 L648.1 440.8 L649.6 442.2 L651.1 443.7 L652.6 445.1 L654.1 446.5 L655.6 447.9 L657.1 449.3 L658.6 450.7 L660.1 452.1 L661.6 453.5 L663.1 454.9 L664.6 456.2 L666.1 457.6 L667.6 458.9 L669.1 460.3 L670.6 461.6 L672.1 463.0 L673.6 464.3 L675.1 465.6 L676.6 466.9 L678.1 468.2 L679.6 469.5 L681.1 470.8 L682.6 472.1 L684.1 473.4 L685.6 474.6 L687.1 475.9 L688.6 477.1 L690.1 478.4 L691.6 479.6 L693.1 480.9 L694.6 482.1 L696.1 483.3 L697.6 484.5 L699.1 485.7 L700.6 486.9 L702.1 488.1 L703.6 489.3 L705.1 490.4 L706.6 491.6 L708.1 492.7 L709.1 493.5" stroke="#cc6600"/>
<path d="M147.2 94.1 L177.5 94.1 L179.0 95.5 L180.5 96.7 L182.0 97.8 L183.5 98.8 L185.0 99.7 L186.5 100.6 L188.0 101.4 L189.5 102.3 L191.0 103.1 L192.5 103.9 L194.0 104.7 L195.5 105.6 L197.0 106.4 L198.5 107.2 L200.0 108.1 L201.5 108.9 L203.0 109.7 L204.5 110.6 L206.0 111.4 L207.5 112.3 L209.0 113.1 L210.5 113.9 L212.0 114.7 L213.5 115.6 L215.0 116.4 L216.5 117.2 L218.0 118.0 L219.5 118.8 L221.0 119.7 L222.5 120.6 L224.0 121.5 L225.5 122.4 L227.0 123.3 L228.5 124.2 L230.0 125.1 L231.5 125.9 L233.0 126.6 L234.5 127.3 L236.0 128.0 L237.5 128.7 L239.0 129.4 L240.5 130.2 L242.0 130.9 L243.5 131.6 L245.0 132.3 L246.5 132.9 L248.0 133.5 L249.5 134.1 L251.0 134.6 L252.5 135.1 L254.0 135.7 L255.5 136.2 L257.0 136.8 L258.5 137.5 L260.0 138.2 L261.5 138.9 L263.0 139.7 L264.5 140.5 L266.0 141.3 L267.5 142.1 L269.0 142.9 L270.5 143.6 L272.0 144.4 L273.5 145.1 L275.0 145.9 L276.5 146.6 L278.0 147.3 L279.5 148.0 L281.0 148.8 L282.5 149.5 L284.0 150.2 L285.5 150.9 L287.0 151.6 L288.5 152.3 L290.0 153.0 L291.5 153.6 L293.0 154.3 L294.5 155.0 L296.0 155.7 L297.5 156.4 L299.0 157.1 L300.5 157.8 L302.0 158.5 L303.5 159.2 L305.0 159.9 L306.5 160.6 L308.0 161.3 L309.5 162.1 L311.0 162.8 L312.5 163.6 L314.0 164.3 L315.5 165.1 L317.0 165.8 L318.5 166.6 L320.0 167.4 L321.5 168.2 L323.0 169.0 L324.5 169.9 L326.0 170.7 L327.5 171.6 L329.0 172.5 L330.5 173.4 L332.0 174.3 L333.5 175.2 L335.0 176.2 L336.5 177.1 L338.0 178.1 L339.5 179.1 L341.0 180.2 L342.5 181.2 L344.0 182.3 L345.5 183.4 L347.0 184.5 L348.5 185.7 L350.0 186.8 L351.5 188.0 L353.0 189.2 L354.5 190.5 L356.0 191.8 L357.5 193.1 L359.0 194.4 L360.5 195.8 L362.0 197.2 L363.5 198.6 L365.0 200.1 L366.5 201.6 L368.0 203.1 L369.5 204.7 L371.0 206.2 L372.5 207.9 L374.0 209.5 L375.5 211.2 L377.0 212.9 L378.5 214.7 L380.0 216.4 L381.5 218.2 L383.0 220.1 L384.5 221.9 L386.0 223.8 L387.5 225.7 L389.0 227.7 L390.5 229.6 L392.0 231.6 L393.5 233.7 L395.0 235.7 L396.5 237.8 L398.0 239.9 L399.5 242.0 L401.0 244.2 L402.5 246.3 L404.0 248.5 L405.5 250.7 L407.0 252.9 L408.5 255.1 L410.0 257.3 L411.5 259.6 L413.0 261.8 L414.5 264.0 L416.0 266.2 L417.5 268.4 L419.0 270.6 L420.5 272.7 L422.0 274.9 L423.5 277.0 L425.0 279.1 L426.5 281.2 L428.0 283.3 L429.5 285.3 L431.0 287.3 L432.5 289.3 L434.0 291.2 L435.5 293.2 L437.0 295.0 L438.5 296.9 L440.0 298.8 L441.5 300.6 L443.0 302.4 L444.5 304.2 L446.0 305.9 L447.5 307.6 L449.0 309.4 L450.5 311.1 L452.0 312.7 L453.5 314.4 L455.0 316.0 L456.5 317.7 L458.0 319.3 L459.5 320.9 L461.0 322.5 L462.5 324.0 L464.0 325.6 L465.5 327.1 L467.0 328.7 L468.5 330.2 L470.0 331.7 L471.5 333.2 L473.0 334.7 L474.5 336.2 L476.0 337.6 L477.5 339.1 L479.0 340.5 L480.5 342.0 L482.0 343.4 L483.5 344.8 L485.0 346.2 L486.5 347.6 L488.0 349.0 L489.5 350.4 L491.0 351.8 L492.5 353.1 L494.0 354.5 L495.5 355.8 L497.0 357.2 L498.5 358.5 L500.0 359.8 L501.5 361.1 L503.0 362.4 L504.5 363.7 L506.0 365.0 L507.5 366.3 L509.0 367.5 L510.5 368.8 L512.0 370.0 L513.5 371.3 L515.0 372.5 L516.5 373.8 L518.0 375.0 L519.5 376.2 L521.0 377.4 L522.5 378.6 L524.0 379.8 L525.5 381.0 L527.0 382.2 L528.5 383.3 L530.0 384.5 L531.5 385.6 L533.0 386.8 L534.5 387.9 L536.0 389.1 L537.5 390.2 L539.0 391.3 L540.5 392.5 L542.0 393.6 L543.5 394.7 L545.0 395.8 L546.5 396.9 L548.0 398.0 L549.5 399.1 L551.0 400.1 L552.5 401.2 L554.0 402.3 L555.5 403.3 L557.0 404.4 L558.5 405.4 L560.0 406.5 L561.5 407.5 L563.0 408.6 L564.5 409.6 L566.0 410.6 L567.5 411.6 L569.0 412.6 L570.5 413.6 L572.0 414.6 L573.5 415.6 L575.0 416.6 L576.5 417.6 L578.0 418.6 L579.5 419.6 L581.0 420.5 L582.5 421.5 L584.0 422.5 L585.5 423.4 L587.0 424.4 L588.5 425.3 L590.0 426.3 L591.5 427.2 L593.0 428.1 L594.5 429.1 L596.0 430.0 L597.5 430.9 L599.0 431.8 L600.5 432.7 L602.0 433.7 L603.5 434.6 L605.0 435.5 L606.5 436.4 L608.0 437.2 L609.5 438.1 L611.0 439.0 L612.5 439.9 L614.0 440.8 L615.5 441.6 L617.0 442.5 L618.5 443.4 L620.0 444.2 L621.5 445.1 L623.0 445.9 L624.5 446.8 L626.0 447.6 L627.5 448.5 L629.0 449.3 L630.5 450.2 L632.0 451.0 L633.5 451.8 L635.0 452.6 L636.5 453.5 L638.0 454.3 L639.5 455.1 L641.0 455.9 L642.5 456.7 L644.0 457.5 L645.5 458.3 L647.0 459.1 L648.5 459.9 L650.0 460.7 L651.5 461.5 L653.0 462.3 L654.5 463.1 L656.0 463.9 L657.5 464.7 L659.0 465.4 L660.5 466.2 L662.0 467.0 L663.5 467.8 L665.0 468.5 L666.5 469.3 L668.0 470.1 L669.5 470.8 L671.0 471.6 L672.5 472.4 L674.0 473.1 L675.5 473.9 L677.0 474.6 L678.5 475.4 L680.0 476.1 L681.5 476.9 L683.0 477.6 L684.5 478.4 L686.0 479.1 L687.5 479.9 L689.0 480.6 L690.5 481.3 L692.0 482.1 L693.5 482.8 L695.0 483.5 L696.5 484.3 L698.0 485.0 L699.5 485.7 L701.0 486.5 L702.5 487.2 L704.0 487.9 L705.5 488.7 L707.0 489.4 L708.5 490.1 L709.1 490.4" stroke="#00aeef" stroke-dasharray="9.24 9.24"/>
<path d="M147.1 94.1 L148.6 94.1 L150.1 94.2 L151.6 94.2 L153.1 94.2 L154.6 94.2 L156.1 94.2 L157.6 94.3 L159.1 94.3 L160.6 94.3 L162.1 94.3 L163.6 94.3 L165.1 94.3 L166.6 94.4 L168.1 94.4 L169.6 94.4 L171.1 94.4 L172.6 94.5 L174.1 94.5 L175.6 94.5 L177.1 94.6 L178.6 94.6 L180.1 94.6 L181.6 94.7 L183.1 94.7 L184.6 94.8 L186.1 94.8 L187.6 94.9 L189.1 95.0 L190.6 95.0 L192.1 95.1 L193.6 95.2 L195.1 95.3 L196.6 95.4 L198.1 95.4 L199.6 95.6 L201.1 95.7 L202.6 95.8 L204.1 95.9 L205.6 96.0 L207.1 96.2 L208.6 96.3 L210.1 96.4 L211.6 96.6 L213.1 96.7 L214.6 96.9 L216.1 97.1 L217.6 97.2 L219.1 97.4 L220.6 97.6 L222.1 97.7 L223.6 97.9 L225.1 98.1 L226.6 98.3 L228.1 98.5 L229.6 98.7 L231.1 98.8 L232.6 99.0 L234.1 99.2 L235.6 99.4 L237.1 99.6 L238.6 99.8 L240.1 100.0 L241.6 100.2 L243.1 100.4 L244.6 100.6 L246.1 100.8 L247.6 101.0 L249.1 101.2 L250.6 101.4 L252.1 101.6 L253.6 101.8 L255.1 102.0 L256.6 102.2 L258.1 102.4 L259.6 102.6 L261.1 102.9 L262.6 103.1 L264.1 103.3 L265.6 103.5 L267.1 103.7 L268.6 104.0 L270.1 104.2 L271.6 104.4 L273.1 104.6 L274.6 104.9 L276.1 105.1 L277.6 105.3 L279.1 105.6 L280.6 105.8 L282.1 106.1 L283.6 106.3 L285.1 106.6 L286.6 106.8 L288.1 107.1 L289.6 107.4 L291.1 107.6 L292.6 107.9 L294.1 108.2 L295.6 108.5 L297.1 108.7 L298.6 109.0 L300.1 109.3 L301.6 109.6 L303.1 109.9 L304.6 110.2 L306.1 110.5 L307.6 110.8 L309.1 111.1 L310.6 111.5 L312.1 111.8 L313.6 112.1 L315.1 112.5 L316.6 112.8 L318.1 113.1 L319.6 113.5 L321.1 113.9 L322.6 114.2 L324.1 114.6 L325.6 115.0 L327.1 115.3 L328.6 115.7 L330.1 116.1 L331.6 116.5 L333.1 116.9 L334.6 117.3 L336.1 117.7 L337.6 118.2 L339.1 118.6 L340.6 119.0 L342.1 119.5 L343.6 119.9 L345.1 120.4 L346.6 120.8 L348.1 121.3 L349.6 121.8 L351.1 122.2 L352.6 122.7 L354.1 123.2 L355.6 123.7 L357.1 124.2 L358.6 124.8 L360.1 125.3 L361.6 125.8 L363.1 126.4 L364.6 127.0 L366.1 127.6 L367.6 128.1 L369.1 128.8 L370.6 129.4 L372.1 130.0 L373.6 130.7 L375.1 131.3 L376.6 132.0 L378.1 132.7 L379.6 133.5 L381.1 134.2 L381.6 134.5 L383.1 135.5 L384.6 136.9 L386.1 138.5 L387.6 140.2 L389.1 141.9 L390.6 143.7 L392.1 145.5 L393.6 147.3 L395.1 149.3 L396.6 151.4 L398.1 153.6 L399.6 156.0 L401.1 158.5 L402.6 161.2 L404.1 163.9 L405.6 166.6 L407.1 169.5 L408.6 172.3 L410.1 175.2 L411.6 178.0 L413.1 180.9 L414.6 183.8 L416.1 186.7 L417.6 189.6 L419.1 192.5 L420.6 195.3 L422.1 198.1 L423.6 200.9 L425.1 203.6 L426.6 206.3 L428.1 209.0 L429.6 211.6 L431.1 214.2 L432.6 216.8 L434.1 219.3 L435.6 221.8 L437.1 224.3 L438.6 226.7 L440.1 229.1 L441.6 231.4 L443.1 233.8 L444.6 236.1 L446.1 238.3 L447.6 240.6 L449.1 242.8 L450.6 244.9 L452.1 247.1 L453.6 249.2 L455.1 251.3 L456.6 253.3 L458.1 255.4 L459.6 257.4 L461.1 259.4 L462.6 261.3 L464.1 263.2 L465.6 265.1 L467.1 267.0 L468.6 268.9 L470.1 270.7 L471.6 272.5 L473.1 274.3 L474.6 276.1 L476.1 277.8 L477.6 279.5 L479.1 281.2 L480.6 282.9 L482.1 284.6 L483.6 286.2 L485.1 287.8 L486.6 289.5 L488.1 291.0 L489.6 292.6 L491.1 294.2 L492.6 295.7 L494.1 297.2 L495.6 298.7 L497.1 300.2 L498.6 301.7 L500.1 303.2 L501.6 304.6 L503.1 306.1 L504.6 307.5 L506.1 308.9 L507.6 310.3 L509.1 311.7 L510.6 313.1 L512.1 314.5 L513.6 315.8 L515.1 317.2 L516.6 318.5 L518.1 319.9 L519.6 321.2 L521.1 322.5 L522.6 323.8 L524.1 325.1 L525.6 326.4 L527.1 327.7 L528.6 329.0 L530.1 330.2 L531.6 331.5 L533.1 332.7 L534.6 334.0 L536.1 335.2 L537.6 336.4 L539.1 337.6 L540.6 338.9 L542.1 340.0 L543.6 341.2 L545.1 342.4 L546.6 343.6 L548.1 344.8 L549.6 345.9 L551.1 347.1 L552.6 348.2 L554.1 349.3 L555.6 350.4 L557.1 351.6 L558.6 352.7 L560.1 353.8 L561.6 354.9 L563.1 355.9 L564.6 357.0 L566.1 358.1 L567.6 359.1 L569.1 360.2 L570.6 361.2 L572.1 362.3 L573.6 363.3 L575.1 364.3 L576.6 365.3 L578.1 366.3 L579.6 367.3 L581.1 368.3 L582.6 369.3 L584.1 370.3 L585.6 371.3 L587.1 372.2 L588.6 373.2 L590.1 374.1 L591.6 375.1 L593.1 376.0 L594.6 376.9 L596.1 377.9 L597.6 378.8 L599.1 379.7 L600.6 380.6 L602.1 381.5 L603.6 382.4 L605.1 383.3 L606.6 384.2 L608.1 385.1 L609.6 386.0 L611.1 386.8 L612.6 387.7 L614.1 388.6 L615.6 389.5 L617.1 390.3 L618.6 391.2 L620.1 392.0 L621.6 392.9 L623.1 393.7 L624.6 394.6 L626.1 395.4 L627.6 396.3 L629.1 397.1 L630.6 398.0 L632.1 398.8 L633.6 399.6 L635.1 400.5 L636.6 401.3 L638.1 402.2 L639.6 403.0 L641.1 403.8 L642.6 404.7 L644.1 405.5 L645.6 406.3 L647.1 407.2 L648.6 408.0 L650.1 408.8 L651.6 409.7 L653.1 410.5 L654.6 411.3 L656.1 412.1 L657.6 413.0 L659.1 413.8 L660.6 414.6 L662.1 415.4 L663.6 416.2 L665.1 417.0 L666.6 417.8 L668.1 418.6 L669.6 419.4 L671.1 420.1 L672.6 420.9 L674.1 421.7 L675.6 422.4 L677.1 423.2 L678.6 423.9 L680.1 424.6 L681.6 425.4 L683.1 426.1 L684.6 426.8 L686.1 427.5 L687.6 428.1 L689.1 428.8 L690.6 429.5 L692.1 430.1 L693.6 430.8 L695.1 431.4 L696.6 432.0 L698.1 432.6 L699.6 433.2 L701.1 433.8 L702.6 434.3 L704.1 434.9 L705.6 435.4 L707.1 435.9 L708.6 436.4 L709.1 436.6" stroke="#0000ff" stroke-dasharray="9.24 9.24"/>
<path d="M147.25 420.2 H709.10" stroke="#000" stroke-dasharray="9.24 9.24"/>
</g>
<rect x="147.25" y="46.80" width="561.85" height="561.40" fill="none" stroke="#000" stroke-width="1.2"/>
<text x="135.3" y="591.3" font-size="35.5" text-anchor="end" textLength="65.6" lengthAdjust="spacingAndGlyphs" font-family="Liberation Serif, serif" fill="#111">1.02</text>
<text x="135.3" y="523.6" font-size="35.5" text-anchor="end" textLength="65.6" lengthAdjust="spacingAndGlyphs" font-family="Liberation Serif, serif" fill="#111">1.04</text>
<text x="135.3" y="455.9" font-size="35.5" text-anchor="end" textLength="65.6" lengthAdjust="spacingAndGlyphs" font-family="Liberation Serif, serif" fill="#111">1.06</text>
<text x="135.3" y="388.2" font-size="35.5" text-anchor="end" textLength="65.6" lengthAdjust="spacingAndGlyphs" font-family="Liberation Serif, serif" fill="#111">1.08</text>
<text x="135.3" y="320.5" font-size="35.5" text-anchor="end" textLength="46.9" lengthAdjust="spacingAndGlyphs" font-family="Liberation Serif, serif" fill="#111">1.1</text>
<text x="135.3" y="252.7" font-size="35.5" text-anchor="end" textLength="65.6" lengthAdjust="spacingAndGlyphs" font-family="Liberation Serif, serif" fill="#111">1.12</text>
<text x="135.3" y="185.0" font-size="35.5" text-anchor="end" textLength="65.6" lengthAdjust="spacingAndGlyphs" font-family="Liberation Serif, serif" fill="#111">1.14</text>
<text x="135.3" y="117.3" font-size="35.5" text-anchor="end" textLength="65.6" lengthAdjust="spacingAndGlyphs" font-family="Liberation Serif, serif" fill="#111">1.16</text>
<text x="147.2" y="645" font-size="35.5" text-anchor="middle" font-family="Liberation Serif, serif" fill="#111">0</text>
<text x="222.2" y="645" font-size="35.5" text-anchor="middle" font-family="Liberation Serif, serif" fill="#111">20</text>
<text x="297.1" y="645" font-size="35.5" text-anchor="middle" font-family="Liberation Serif, serif" fill="#111">40</text>
<text x="372.0" y="645" font-size="35.5" text-anchor="middle" font-family="Liberation Serif, serif" fill="#111">60</text>
<text x="446.9" y="645" font-size="35.5" text-anchor="middle" font-family="Liberation Serif, serif" fill="#111">80</text>
<text x="521.8" y="645" font-size="35.5" text-anchor="middle" font-family="Liberation Serif, serif" fill="#111">100</text>
<text x="596.7" y="645" font-size="35.5" text-anchor="middle" font-family="Liberation Serif, serif" fill="#111">120</text>
<text x="671.6" y="645" font-size="35.5" text-anchor="middle" font-family="Liberation Serif, serif" fill="#111">140</text>
<text x="337.7" y="693.8" font-size="36" textLength="90.5" lengthAdjust="spacingAndGlyphs" font-family="Liberation Serif, serif" fill="#111">Time,</text>
<text x="440.8" y="693.8" font-size="36" textLength="80.5" lengthAdjust="spacingAndGlyphs" font-family="Liberation Serif, serif" fill="#111">years</text>
<circle cx="163.6" cy="20.3" r="2.1" fill="#111"/>
<text x="170.2" y="30" font-size="36" textLength="37" lengthAdjust="spacingAndGlyphs" font-family="Liberation Serif, serif" fill="#111">10</text>
<path d="M207.5 9.8 H222.7" stroke="#111" stroke-width="1.2"/>
<text x="226" y="16" font-size="24.5" font-family="Liberation Serif, serif" fill="#111">2</text>
<g transform="translate(37.8 452) rotate(-90)">
<text x="-0.8" y="0" font-size="35.5" textLength="84.5" lengthAdjust="spacingAndGlyphs" font-family="Liberation Serif, serif" fill="#111">Total</text>
<text x="93.6" y="0" font-size="35.5" textLength="89.5" lengthAdjust="spacingAndGlyphs" font-family="Liberation Serif, serif" fill="#111">mass,</text>
<text x="195.5" y="0" font-size="38" font-style="italic" textLength="34.5" lengthAdjust="spacingAndGlyphs" font-family="Liberation Serif, serif" fill="#111">M</text>
</g>
<circle cx="36.8" cy="213.8" r="8.3" fill="none" stroke="#111" stroke-width="1.2"/><circle cx="36.8" cy="213.8" r="2" fill="#111"/>
</svg>
</body></html>
